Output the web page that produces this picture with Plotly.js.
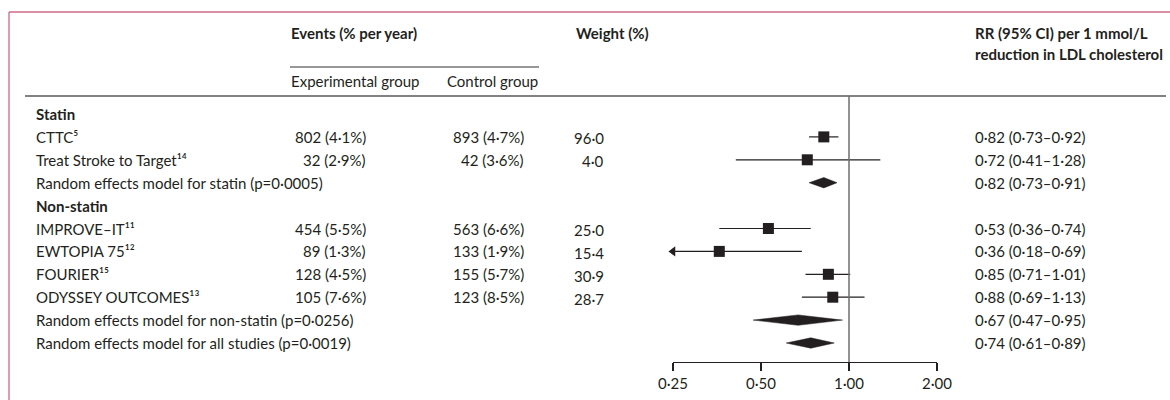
<!DOCTYPE html>
<html>
<head>
<meta charset="utf-8">
<script src="https://cdn.plot.ly/plotly-3.0.1.min.js"></script>
<style>html,body{margin:0;padding:0;background:#fff;}#chart{width:1170px;height:400px;}</style>
</head>
<body>
<div id="chart"></div>
<script>
// ---------- data ----------
const rowLabels = [
  'Statin',
  'CTTC⁵',
  'Treat Stroke to Target¹⁴',
  'Random effects model for statin (p=0·0005)',
  'Non-statin',
  'IMPROVE–IT¹¹',
  'EWTOPIA 75¹²',
  'FOURIER¹⁵',
  'ODYSSEY OUTCOMES¹³',
  'Random effects model for non-statin (p=0·0256)',
  'Random effects model for all studies (p=0·0019)'
];
const rowKind = ['group','study','study','summary','group','study','study','study','study','summary','summary'];
const expEvents = ['', '802 (4·1%)', '32 (2·9%)', '', '', '454 (5·5%)', '89 (1·3%)', '128 (4·5%)', '105 (7·6%)', '', ''];
const ctrlEvents = ['', '893 (4·7%)', '42 (3·6%)', '', '', '563 (6·6%)', '133 (1·9%)', '155 (5·7%)', '123 (8·5%)', '', ''];
const weights = ['', '96·0', '4·0', '', '', '25·0', '15·4', '30·9', '28·7', '', ''];
const rr = [null, 0.82, 0.72, 0.82, null, 0.53, 0.36, 0.85, 0.88, 0.67, 0.74];
const lo = [null, 0.73, 0.41, 0.73, null, 0.36, 0.18, 0.71, 0.69, 0.47, 0.61];
const hi = [null, 0.92, 1.28, 0.91, null, 0.74, 0.69, 1.01, 1.13, 0.95, 0.89];
const tickVals = [0.25, 0.5, 1, 2];
const tickText = ['0·25', '0·50', '1·00', '2·00'];

// ---------- layout helpers ----------
const W = 1170, H = 400;
const FONT = 'Lato, "Open Sans", sans-serif';
const FS = 15;
const TXT = '#231f20';
const axisMin = 0.25, axisMax = 2;
const rowY = i => 114 + i * 22.9;     // vertical position of each row (y axis in px-like units)
const px = x => x / W;                 // paper x from pixel
const fmt = v => v.toFixed(2).replace('.', '·');

const traces = [];
const annotations = [];

// CI lines, squares and clipped-CI arrows
const lx = [], ly = [];
const sqx = [], sqy = [];
const arx = [], ary = [];
rowKind.forEach((k, i) => {
  if (k !== 'study') return;
  lx.push(lo[i], hi[i], null);
  ly.push(rowY(i), rowY(i), null);
  sqx.push(rr[i]); sqy.push(rowY(i));
  if (lo[i] < axisMin) { arx.push(axisMin); ary.push(rowY(i)); }
});
traces.push({type:'scatter', mode:'lines', x:lx, y:ly, line:{color:TXT, width:1.2}, hoverinfo:'skip', showlegend:false});
traces.push({type:'scatter', mode:'markers', x:sqx, y:sqy, marker:{symbol:'square', size:11, color:TXT}, hoverinfo:'skip', showlegend:false});
traces.push({type:'scatter', mode:'markers', x:arx, y:ary, cliponaxis:false,
  marker:{symbol:'triangle-left', size:9, color:TXT}, hoverinfo:'skip', showlegend:false});

// summary diamonds
const dh = 5.2;
rowKind.forEach((k, i) => {
  if (k !== 'summary') return;
  const y = rowY(i);
  traces.push({type:'scatter', mode:'lines', fill:'toself', fillcolor:TXT,
    x:[lo[i], rr[i], hi[i], rr[i], lo[i]], y:[y, y - dh, y, y + dh, y],
    line:{color:TXT, width:0.5}, hoverinfo:'skip', showlegend:false});
});

// text columns
function ann(text, x, y, anchor, bold) {
  annotations.push({text: bold ? '<b>' + text + '</b>' : text, xref:'paper', yref:'y', x:px(x), y:y,
    xanchor:anchor, yanchor:'middle', showarrow:false, borderpad:0,
    font:{family:FONT, size:FS, color:TXT}});
}
rowLabels.forEach((t, i) => ann(t, 35, rowY(i), 'left', rowKind[i] === 'group'));
expEvents.forEach((t, i) => { if (t) ann(t, 367, rowY(i), 'right'); });
ctrlEvents.forEach((t, i) => { if (t) ann(t, 525, rowY(i), 'right'); });
weights.forEach((t, i) => { if (t) ann(t, 605, rowY(i) + 1.5, 'right'); });
rr.forEach((v, i) => { if (v !== null) ann(`${fmt(v)} (${fmt(lo[i])}–${fmt(hi[i])})`, 974, rowY(i), 'left'); });

// headers
ann('Events (% per year)', 290, 33, 'left', true);
ann('Experimental group', 290, 81, 'left');
ann('Control group', 446, 81, 'left');
ann('Weight (%)', 575, 33, 'left', true);
ann('RR (95% CI) per 1 mmol/L', 974, 33, 'left', true);
ann('reduction in LDL cholesterol', 974, 54, 'left', true);

const shapes = [
  // frame (top and left)
  {type:'line', xref:'paper', yref:'paper', x0:px(9), x1:1, y0:1 - 12/H, y1:1 - 12/H, line:{color:'#cf6886', width:1.3}},
  {type:'line', xref:'paper', yref:'paper', x0:px(9), x1:px(9), y0:1 - 12/H, y1:0, line:{color:'#cf6886', width:1.3}},
  // header rule
  {type:'line', xref:'paper', yref:'y', x0:px(25), x1:px(1166), y0:96, y1:96, line:{color:'#58595b', width:1.6}},
  // events underline
  {type:'line', xref:'paper', yref:'y', x0:px(290), x1:px(539), y0:67, y1:67, line:{color:'#333333', width:1.2}},
  // reference line at 1
  {type:'line', xref:'x', yref:'y', x0:1, x1:1, y0:96, y1:362, line:{color:'#6d6e71', width:1.5}}
];

const layout = {
  width: W, height: H,
  margin: {l:0, r:0, t:0, b:0},
  paper_bgcolor: '#fff', plot_bgcolor: 'rgba(0,0,0,0)',
  showlegend: false,
  xaxis: {type:'log', range:[Math.log10(axisMin), Math.log10(axisMax)], domain:[px(673), px(937)],
    tickvals: tickVals, ticktext: tickText, ticks:'outside', ticklen:8, tickwidth:1.2, tickcolor:TXT,
    showline:true, linecolor:TXT, linewidth:1.2, showgrid:false, zeroline:false,
    tickfont:{family:FONT, size:FS, color:TXT}, fixedrange:true},
  yaxis: {range:[362, 0], domain:[1 - 362/H, 1], visible:false, showgrid:false, zeroline:false, fixedrange:true},
  annotations: annotations,
  shapes: shapes
};

Plotly.newPlot('chart', traces, layout, {displayModeBar:false, staticPlot:true});
</script>
</body>
</html>
